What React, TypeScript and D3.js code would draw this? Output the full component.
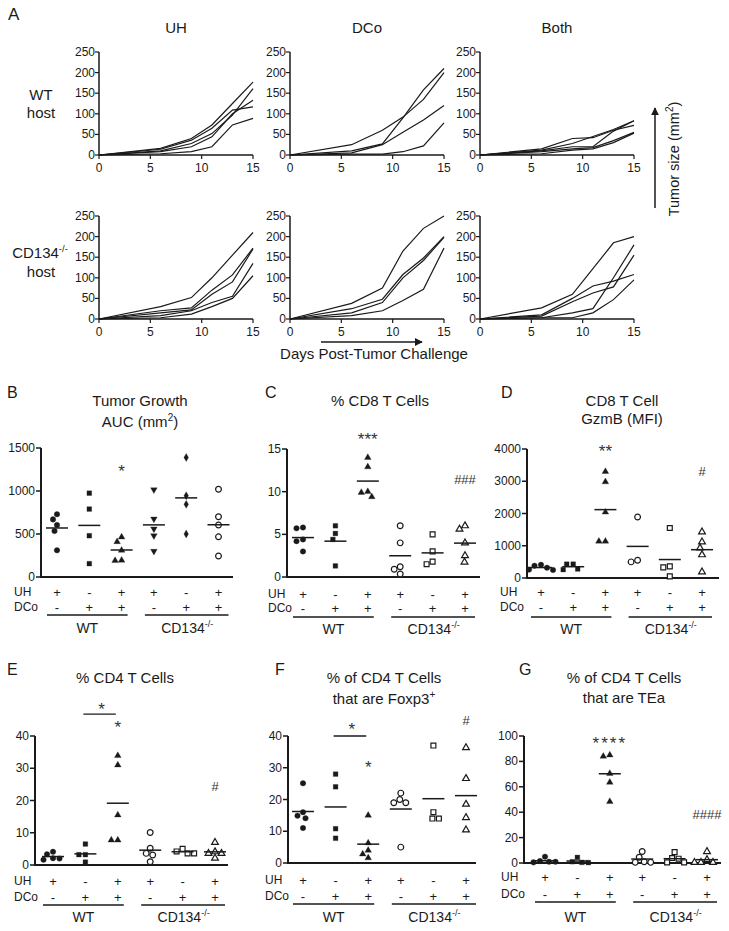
import React from "react";
import * as d3 from "d3";

const FONT = "'Liberation Sans', Arial, Helvetica, sans-serif";
const INK = "#1a1a1a";

// ---------- Panel A data ----------
const days = [0, 6, 9, 11, 13, 15];
const aTicksX = [0, 5, 10, 15];
const aTicksY = [0, 50, 100, 150, 200, 250];
const colTitles = ["UH", "DCo", "Both"];

const wtUH = [
  [0, 16, 40, 73, 125, 177],
  [0, 14, 36, 65, 109, 117],
  [0, 10, 28, 52, 97, 161],
  [0, 8, 20, 44, 100, 133],
  [0, 3, 8, 20, 73, 89],
];
const wtDCo = [
  [0, 25, 60, 92, 135, 200],
  [0, 10, 27, 90, 158, 210],
  [0, 5, 25, 55, 85, 120],
  [0, 2, 2, 8, 22, 78],
];
const wtBoth = [
  [0, 15, 40, 42, 60, 72],
  [0, 12, 28, 45, 62, 83],
  [0, 10, 20, 20, 58, 83],
  [0, 8, 15, 18, 35, 55],
  [0, 3, 12, 15, 30, 53],
];
const koUH = [
  [0, 30, 52, 100, 155, 210],
  [0, 20, 27, 70, 107, 172],
  [0, 15, 22, 60, 90, 170],
  [0, 8, 20, 40, 55, 135],
  [0, 3, 12, 30, 50, 105],
];
const koDCo = [
  [0, 38, 75, 165, 220, 250],
  [0, 25, 48, 108, 148, 200],
  [0, 15, 40, 100, 142, 198],
  [0, 8, 20, 45, 72, 172],
];
const koBoth = [
  [0, 27, 60, 122, 185, 200],
  [0, 10, 50, 80, 92, 108],
  [0, 7, 42, 63, 78, 155],
  [0, 3, 15, 25, 100, 180],
  [0, 3, 3, 15, 47, 95],
];

// ---------- Scatter panel data ----------
const uhSigns = ["+", "-", "+", "+", "-", "+"];
const dcoSigns = ["-", "+", "+", "-", "+", "+"];

const aucValues = [
  [730, 670, 605, 535, 310],
  [975, 790, 480, 155],
  [465, 410, 310, 195, 190],
  [1015, 675, 560, 480, 300],
  [1390, 945, 845, 500],
  [1020, 700, 605, 467, 245],
];
const cd8Values = [
  [5.7, 5.8, 4.4, 4.2, 3.0],
  [6.0, 5.1, 4.4, 1.3],
  [14.0, 12.9, 10.0, 9.9, 9.4],
  [6.0, 4.0, 1.2, 0.9, 0.35],
  [5.0, 3.0, 1.8, 1.5],
  [6.0, 5.6, 4.0, 2.5, 1.75],
];
const gzmbValues = [
  [410, 380, 320, 260, 250],
  [430, 430, 260, 280],
  [3300, 2980, 2040, 1140, 1140],
  [1890, 500, 550],
  [1550, 360, 330, 50],
  [1430, 1120, 930, 720, 190],
];
const cd4Values = [
  [4.1, 3.3, 2.1, 1.6, 2.0],
  [6.5, 3.2, 3.2, 0.9],
  [33.9, 31.0, 15.5, 7.7, 7.7],
  [10.1, 5.2, 3.6, 3.1, 1.0],
  [5.0, 4.2, 3.6, 3.6],
  [7.0, 4.1, 3.6, 3.6, 2.1],
];
const foxp3Values = [
  [25.1, 16.0, 14.9, 14.1, 11.0],
  [28, 24, 10.8, 7.8],
  [15, 6.3, 4.0, 2.8, 1.6],
  [22, 20, 19, 19, 5],
  [37, 16, 14, 14],
  [36.3, 26.6, 18.5, 14.3, 10.4],
];
const teaValues = [
  [5, 1.5, 1, 0.5, 1],
  [4.4, 1.0, 0.5, 0.3],
  [84, 85, 70.5, 63.5, 48.3],
  [9, 4.5, 1, 0.5, 0.5],
  [8.6, 3.9, 3.4, 0.5, 0.5],
  [9, 2.6, 0.5, 0.5, 0.5],
];

const shapesB = ["circle", "square", "triangle", "triangleDown", "diamond", "circleOpen"];
const shapesStd = ["circle", "square", "triangle", "circleOpen", "squareOpen", "triangleOpen"];

// ---------- helpers ----------
function swarm(ys: number[], D: number): number[] {
  const placed: { x: number; y: number }[] = [];
  const order = ys.map((_, i) => i).sort((a, b) => ys[a] - ys[b]);
  const out = new Array(ys.length).fill(0);
  for (const i of order) {
    let best = 0;
    for (let k = 0; k < 400; k++) {
      const off = (k % 2 === 0 ? 1 : -1) * Math.ceil(k / 2) * 0.5;
      if (placed.every((p) => Math.hypot(p.x - off, p.y - ys[i]) >= D)) {
        best = off;
        break;
      }
    }
    placed.push({ x: best, y: ys[i] });
    out[i] = best;
  }
  return out;
}

function symbolPath(shape: string) {
  const base = shape.replace("Open", "");
  const open = shape.includes("Open");
  let type: any = d3.symbolCircle;
  let size = open ? 26 : 24;
  if (base === "square") { type = d3.symbolSquare; size = open ? 24 : 22; }
  if (base === "triangle" || base === "triangleDown") { type = d3.symbolTriangle; size = open ? 20 : 19; }
  if (base === "diamond") { type = d3.symbolDiamond; size = 18; }
  return d3.symbol().type(type).size(size)() as string;
}

function LinePanel({ left, bottom, lines }: { left: number; bottom: number; lines: number[][] }) {
  const x = d3.scaleLinear().domain([0, 15]).range([left, left + 154]);
  const y = d3.scaleLinear().domain([0, 250]).range([bottom, bottom - 103]);
  const line = d3
    .line<number>()
    .x((_, i) => x(days[i]))
    .y((d) => y(d));
  return (
    <g>
      {lines.map((l, i) => (
        <path key={i} d={line(l) as string} fill="none" stroke={INK} strokeWidth={1.2} />
      ))}
      <line x1={left} x2={left} y1={bottom} y2={y(250)} stroke={INK} strokeWidth={1.5} />
      <line x1={left} x2={x(15)} y1={bottom} y2={bottom} stroke={INK} strokeWidth={1.5} />
      {aTicksY.map((t) => (
        <g key={t}>
          <line x1={left - 4} x2={left} y1={y(t)} y2={y(t)} stroke={INK} strokeWidth={1.2} />
          <text x={left - 4} y={y(t) + 4} textAnchor="end" fontSize={12}>
            {t}
          </text>
        </g>
      ))}
      {aTicksX.map((t) => (
        <g key={t}>
          <line x1={x(t)} x2={x(t)} y1={bottom} y2={bottom + 4} stroke={INK} strokeWidth={1.2} />
          <text x={x(t)} y={bottom + 17} textAnchor="middle" fontSize={12}>
            {t}
          </text>
        </g>
      ))}
    </g>
  );
}

type Ann = { text: string; g: number; v: number; size: number; ls?: number };
type Cfg = {
  letter: string; lx: number; ly: number;
  title: React.ReactNode[]; titleX: number; titleYs: number[];
  axisX: number; yTop: number; y0: number; xEnd: number;
  g0: number; step: number; domain: [number, number]; ticks: number[];
  uhY: number; dcoY: number; lineY: number; labY: number; rowX: number;
  values: number[][]; shapes: string[]; ann: Ann[]; bracket?: { v: number };
};

function ScatterPanel({ c }: { c: Cfg }) {
  const y = d3.scaleLinear().domain(c.domain).range([c.y0, c.yTop]);
  const gx = (i: number) => c.g0 + i * c.step;
  return (
    <g>
      <text x={c.lx} y={c.ly} fontSize={16}>{c.letter}</text>
      {c.title.map((t, i) => (
        <text key={i} x={c.titleX} y={c.titleYs[i]} textAnchor="middle" fontSize={15}>
          {t}
        </text>
      ))}
      <line x1={c.axisX} x2={c.axisX} y1={c.y0 + 1} y2={c.yTop} stroke={INK} strokeWidth={2} />
      <line x1={c.axisX - 1} x2={c.xEnd} y1={c.y0} y2={c.y0} stroke={INK} strokeWidth={2} />
      {c.ticks.map((t) => (
        <g key={t}>
          <line x1={c.axisX - 5} x2={c.axisX} y1={y(t)} y2={y(t)} stroke={INK} strokeWidth={1.5} />
          <text x={c.axisX - 6} y={y(t) + 4} textAnchor="end" fontSize={12}>
            {t}
          </text>
        </g>
      ))}
      {c.values.map((vals, gi) => {
        const ys = vals.map((v) => y(v));
        const offs = swarm(ys, 6.4);
        const shape = c.shapes[gi];
        const open = shape.includes("Open");
        const p = symbolPath(shape);
        const mean = d3.mean(vals) as number;
        return (
          <g key={gi}>
            {ys.map((yy, k) => (
              <path
                key={k}
                d={p}
                transform={`translate(${gx(gi) + offs[k]},${yy})${shape === "triangleDown" ? " rotate(180)" : ""}`}
                fill={open ? "white" : INK}
                stroke={INK}
                strokeWidth={open ? 1.2 : 0.3}
              />
            ))}
            <line x1={gx(gi) - 11} x2={gx(gi) + 11} y1={y(mean)} y2={y(mean)} stroke={INK} strokeWidth={1.5} />
          </g>
        );
      })}
      {c.ann.map((a, i) => (
        <text
          key={i}
          x={gx(a.g)}
          y={y(a.v) + (a.text.startsWith("*") ? 10 : 4.5)}
          textAnchor="middle"
          fontSize={a.size}
          letterSpacing={a.ls || 0}
          fill="#333"
        >
          {a.text}
        </text>
      ))}
      {c.bracket && (
        <line x1={gx(1) - 2} x2={gx(2) - 2} y1={y(c.bracket.v)} y2={y(c.bracket.v)} stroke={INK} strokeWidth={1.3} />
      )}
      <text x={c.rowX} y={c.uhY + 4} fontSize={12}>UH</text>
      <text x={c.rowX} y={c.dcoY + 4} fontSize={12}>DCo</text>
      {uhSigns.map((s, i) => (
        <text key={"u" + i} x={gx(i)} y={c.uhY + 4.5} textAnchor="middle" fontSize={13}>{s}</text>
      ))}
      {dcoSigns.map((s, i) => (
        <text key={"d" + i} x={gx(i)} y={c.dcoY + 4.5} textAnchor="middle" fontSize={13}>{s}</text>
      ))}
      <line x1={gx(0) - 10} x2={gx(2) + 6} y1={c.lineY} y2={c.lineY} stroke={INK} strokeWidth={1.3} />
      <line x1={gx(3) - 9} x2={gx(5) + 10} y1={c.lineY} y2={c.lineY} stroke={INK} strokeWidth={1.3} />
      <text x={(gx(0) + gx(2)) / 2 - 2} y={c.labY} textAnchor="middle" fontSize={14}>WT</text>
      <text x={(gx(3) + gx(5)) / 2 + 1} y={c.labY} textAnchor="middle" fontSize={14}>
        CD134<tspan dy={-6} fontSize={9}>-/-</tspan>
      </text>
    </g>
  );
}

const cfgB: Cfg = {
  letter: "B", lx: 7, ly: 398,
  title: ["Tumor Growth", <>AUC (mm<tspan dy={-6} fontSize={10}>2</tspan><tspan dy={6}>)</tspan></>],
  titleX: 140, titleYs: [406, 427],
  axisX: 41, yTop: 448, y0: 577, xEnd: 233, g0: 57, step: 32.3,
  domain: [0, 1500], ticks: [0, 500, 1000, 1500],
  uhY: 592, dcoY: 607, lineY: 615, labY: 633, rowX: 14,
  values: aucValues, shapes: shapesB,
  ann: [{ text: "*", g: 2, v: 1280, size: 17 }],
};
const cfgC: Cfg = {
  letter: "C", lx: 265, ly: 398,
  title: ["% CD8 T Cells"], titleX: 380, titleYs: [406],
  axisX: 287, yTop: 449, y0: 577, xEnd: 480, g0: 303, step: 32.4,
  domain: [0, 15], ticks: [0, 5, 10, 15],
  uhY: 594, dcoY: 608, lineY: 617, labY: 634, rowX: 268,
  values: cd8Values, shapes: shapesStd,
  ann: [
    { text: "***", g: 2, v: 16.6, size: 17 },
    { text: "###", g: 5, v: 11.4, size: 13 },
  ],
};
const cfgD: Cfg = {
  letter: "D", lx: 501, ly: 398,
  title: ["CD8 T Cell", "GzmB (MFI)"], titleX: 622, titleYs: [406, 424],
  axisX: 527, yTop: 449, y0: 578, xEnd: 719, g0: 541, step: 32.2,
  domain: [0, 4000], ticks: [0, 1000, 2000, 3000, 4000],
  uhY: 592, dcoY: 607, lineY: 617, labY: 634, rowX: 500,
  values: gzmbValues, shapes: shapesStd,
  ann: [
    { text: "**", g: 2, v: 4060, size: 17 },
    { text: "#", g: 5, v: 3290, size: 13 },
  ],
};
const cfgE: Cfg = {
  letter: "E", lx: 7, ly: 675,
  title: ["% CD4 T Cells"], titleX: 125, titleYs: [683],
  axisX: 35, yTop: 736, y0: 865, xEnd: 228, g0: 53, step: 32.4,
  domain: [0, 40], ticks: [0, 10, 20, 30, 40],
  uhY: 881, dcoY: 897, lineY: 905, labY: 922, rowX: 14,
  values: cd4Values, shapes: shapesStd,
  ann: [
    { text: "*", g: 1.5, v: 49.5, size: 17 },
    { text: "*", g: 2, v: 44, size: 17 },
    { text: "#", g: 5, v: 24.2, size: 13 },
  ],
  bracket: { v: 46.8 },
};
const cfgF: Cfg = {
  letter: "F", lx: 275, ly: 675,
  title: ["% of CD4 T Cells", <>that are Foxp3<tspan dy={-6} fontSize={10}>+</tspan></>],
  titleX: 384, titleYs: [683, 704],
  axisX: 288, yTop: 736, y0: 863, xEnd: 476, g0: 303, step: 32.6,
  domain: [0, 40], ticks: [0, 10, 20, 30, 40],
  uhY: 880, dcoY: 896, lineY: 904, labY: 922, rowX: 265,
  values: foxp3Values, shapes: shapesStd,
  ann: [
    { text: "*", g: 1.5, v: 43.5, size: 17 },
    { text: "*", g: 2, v: 31.5, size: 17 },
    { text: "#", g: 5, v: 45, size: 13 },
  ],
  bracket: { v: 40 },
};
const cfgG: Cfg = {
  letter: "G", lx: 519, ly: 675,
  title: ["% of CD4 T Cells", "that are TEa"], titleX: 624, titleYs: [683, 703],
  axisX: 524, yTop: 736, y0: 863, xEnd: 721, g0: 545, step: 32.4,
  domain: [0, 100], ticks: [0, 20, 40, 60, 80, 100],
  uhY: 877, dcoY: 894, lineY: 902, labY: 922, rowX: 501,
  values: teaValues, shapes: shapesStd,
  ann: [
    { text: "****", g: 2, v: 97.6, size: 17, ls: 2 },
    { text: "####", g: 5, v: 37.8, size: 13 },
  ],
};

const colLefts = [99, 290, 480];
const rowBottoms = [155, 319];
const aRows = [
  [wtUH, wtDCo, wtBoth],
  [koUH, koDCo, koBoth],
];

export default function App() {
  return (
    <svg
      width={729}
      height={931}
      style={{ position: "absolute", left: 0, top: 0, background: "white" }}
      fontFamily={FONT}
      fill={INK}
    >
      <defs>
        <marker id="ah" viewBox="0 0 10 10" refX="9" refY="5" markerWidth="8" markerHeight="8" markerUnits="userSpaceOnUse" orient="auto">
          <path d="M0,0 L10,5 L0,10 z" fill={INK} />
        </marker>
      </defs>
      <text x={8} y={20} fontSize={17}>A</text>
      {colTitles.map((t, i) => (
        <text key={t} x={colLefts[i] + 77} y={33} textAnchor="middle" fontSize={15}>
          {t}
        </text>
      ))}
      {aRows.map((row, ri) =>
        row.map((lines, ci) => (
          <LinePanel key={ri + "-" + ci} left={colLefts[ci]} bottom={rowBottoms[ri]} lines={lines} />
        ))
      )}
      <text x={41} y={100} textAnchor="middle" fontSize={15}>WT</text>
      <text x={41} y={118} textAnchor="middle" fontSize={15}>host</text>
      <text x={40} y={258} textAnchor="middle" fontSize={15}>
        CD134<tspan dy={-6} fontSize={9.5}>-/-</tspan>
      </text>
      <text x={41} y={277} textAnchor="middle" fontSize={15}>host</text>

      <line x1={655} x2={655} y1={208} y2={108} stroke={INK} strokeWidth={1.5} markerEnd="url(#ah)" />
      <text transform="translate(679,159) rotate(-90)" textAnchor="middle" fontSize={14.5}>
        Tumor size (mm<tspan dy={-6} fontSize={10}>2</tspan><tspan dy={6}>)</tspan>
      </text>
      <line x1={321} x2={422} y1={342} y2={342} stroke={INK} strokeWidth={1.5} markerEnd="url(#ah)" />
      <text x={374} y={359} textAnchor="middle" fontSize={15}>Days Post-Tumor Challenge</text>

      {[cfgB, cfgC, cfgD, cfgE, cfgF, cfgG].map((c) => (
        <ScatterPanel key={c.letter} c={c} />
      ))}
    </svg>
  );
}
